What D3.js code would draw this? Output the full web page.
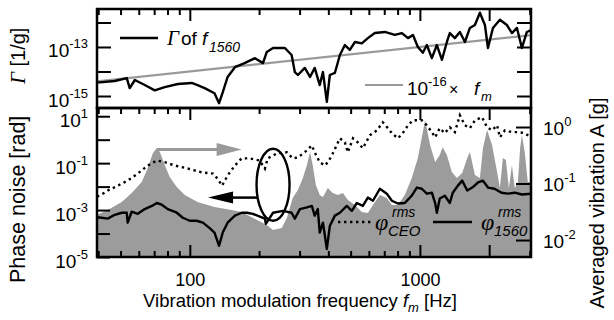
<!DOCTYPE html>
<html>
<head>
<meta charset="utf-8">
<script src="https://cdn.jsdelivr.net/npm/d3@7"></script>
<style>
  body { margin: 0; background: #fff; }
  text { font-family: "Liberation Sans", Arial, sans-serif; fill: #000; }
  .it { font-style: italic; }
  .greek { font-family: "Liberation Serif", "DejaVu Serif", serif; font-style: italic; }
</style>
</head>
<body>
<div id="chart"></div>
<script>
// x ticks
const xMinorTicks = [40, 50, 60, 70, 80, 90, 200, 300, 400, 500, 600, 700, 800, 900, 3000];
const xMajorTicks = [100, 1000, 2000];
const xLabels = [100, 1000];

// y ticks
const gammaTicks = [1e-15, 1e-14, 1e-13, 1e-12];
const gammaLabels = [1e-15, 1e-13];
const phaseTicks = [1e-5, 1e-4, 1e-3, 1e-2, 1e-1, 1e0, 1e1];
const phaseLabels = [1e-5, 1e-3, 1e-1, 1e1];
const vibTicks = [1e-2, 1e-1, 1e0];

// top panel: Gamma of f1560 [1/g]
const gammaF = [39.5, 40.6, 47.2, 53.2, 54.8, 57.7, 63.7, 70.4, 77.8, 88.7, 102, 108, 116, 128, 134, 139, 146, 157, 173, 192,
  208, 216, 230, 259, 277, 286, 295, 316, 333, 349, 367, 379, 394, 406, 427, 449, 472, 496, 522, 559,
  594, 637, 704, 778, 835, 888, 933, 980, 1030, 1072, 1127, 1185, 1247, 1310, 1349, 1419, 1492, 1569, 1649, 1734,
  1823, 1917, 1976, 2077, 2227, 2388, 2512, 2641, 2775, 2917, 3040];
const gammaV = [3.6e-15, 3.6e-15, 4.1e-15, 5.4e-15, 2.1e-15, 4.5e-15, 2.8e-15, 1.7e-15, 2.3e-15, 3.1e-15, 3.4e-15, 2.8e-15, 2.1e-15, 1.3e-15, 5.1e-16, 1.4e-15, 6.0e-15, 1.5e-14, 2.2e-14, 3.5e-14,
  2.2e-14, 6.3e-14, 9.1e-14, 9.1e-14, 4.7e-14, 9.5e-15, 7.2e-15, 1.4e-14, 6.0e-15, 1.4e-14, 2.8e-15, 9.5e-15, 5.8e-16, 7.2e-15, 8.7e-15, 4.7e-14, 1.2e-13, 7.6e-14, 1.6e-13, 1.4e-13,
  2.3e-13, 3.7e-13, 4.1e-13, 3.1e-13, 3.7e-13, 2.3e-13, 3.1e-13, 1.0e-13, 5.8e-14, 1.2e-13, 3.5e-14, 1.2e-13, 3.0e-14, 1.6e-13, 3.7e-13, 2.3e-13, 4.1e-13, 1.6e-13, 6.0e-13, 7.9e-13,
  2.5e-12, 7.9e-13, 9.1e-14, 6.0e-13, 1.3e-12, 7.9e-13, 3.7e-13, 6.0e-13, 9.1e-14, 4.1e-13, 4.9e-13];

// 1e-16 x fm reference line
const refF = [39.5, 3040];
const refV = [3.95e-15, 3.04e-13];

// bottom panel: phi_1560 rms [rad]
const p1560F = [39.5, 40.6, 44.0, 47.2, 50.6, 53.2, 53.7, 55.9, 59.4, 63.7, 68.4, 71.9, 75.5, 80.2, 87.8, 93.2, 100, 107, 114, 122,
  128, 134, 139, 146, 157, 168, 177, 188, 212, 214, 230, 254, 277, 286, 301, 323, 339, 349, 360, 367,
  379, 394, 406, 427, 449, 481, 506, 532, 565, 594, 625, 670, 718, 755, 802, 860, 922, 970, 1019, 1072,
  1127, 1165, 1185, 1220, 1283, 1349, 1390, 1462, 1527, 1606, 1689, 1789, 1880, 1976, 2110, 2262, 2409, 2583, 2775, 3040];
const p1560V = [4.8e-4, 4.8e-4, 4.3e-4, 6.3e-4, 7.7e-4, 7.7e-4, 2.9e-4, 8.5e-4, 6.9e-4, 1.1e-3, 1.5e-3, 2.0e-3, 1.7e-3, 1.1e-3, 7.7e-4, 4.7e-4, 3.5e-4, 3.5e-4, 2.9e-4, 1.7e-4,
  1.1e-4, 3.0e-5, 1.1e-4, 2.9e-4, 5.8e-4, 7.7e-4, 7.7e-4, 6.9e-4, 4.3e-4, 2.6e-4, 7.7e-4, 9.3e-4, 7.7e-4, 4.3e-4, 1.1e-3, 1.3e-3, 1.5e-3, 5.8e-4, 1.1e-3, 1.1e-4,
  2.9e-4, 2.2e-5, 2.1e-4, 5.8e-4, 7.7e-4, 1.5e-3, 9.3e-4, 2.0e-3, 1.5e-3, 3.4e-3, 2.5e-3, 8.1e-3, 5.0e-3, 2.5e-3, 1.9e-3, 2.0e-3, 4.1e-3, 9.1e-3, 8.1e-3, 5.0e-3,
  5.5e-3, 2.0e-3, 7.7e-4, 3.1e-3, 4.1e-3, 2.0e-3, 5.5e-3, 1.1e-2, 1.8e-2, 6.8e-3, 9.1e-3, 1.5e-2, 1.8e-2, 9.1e-3, 8.1e-3, 5.5e-3, 5.0e-3, 5.5e-3, 4.6e-3, 5.0e-3];

// bottom panel: phi_CEO rms [rad]
const pCeoF = [39.5, 40.6, 44.0, 48.7, 53.7, 59.4, 65.7, 71.9, 77.8, 86.1, 98.0, 113, 126, 132, 138, 146, 157, 168, 182, 201,
  212, 218, 239, 264, 280, 295, 323, 339, 349, 367, 386, 398, 414, 449, 472, 486, 512, 537, 565, 606,
  651, 690, 726, 755, 802, 842, 888, 933, 1019, 1072, 1127, 1165, 1220, 1283, 1349, 1419, 1492, 1569, 1649, 1734,
  1862, 1958, 2059, 2165, 2227, 2341, 2512, 2667, 2855, 3040];
const pCeoV = [3.8e-3, 4.1e-3, 6.8e-3, 1.1e-2, 1.8e-2, 3.6e-2, 7.9e-2, 0.13, 0.11, 7.9e-2, 5.9e-2, 4.0e-2, 3.6e-2, 2.2e-2, 1.1e-2, 3.0e-2, 7.9e-2, 0.16, 0.16, 0.13,
  5.9e-2, 0.16, 0.26, 0.29, 0.16, 0.175, 0.35, 0.57, 0.29, 0.11, 7.9e-2, 0.11, 0.21, 1.14, 0.77, 0.29, 1.14, 0.77, 0.43, 1.53,
  2.5, 5.5, 3.1, 1.9, 1.14, 1.9, 4.1, 6.7, 6.7, 4.1, 2.1, 1.26, 3.1, 1.9, 3.4, 2.1, 11, 4.1, 3.1, 6.7,
  9.1, 3.4, 2.5, 4.1, 1.26, 2.5, 2.1, 2.1, 1.9, 1.26];

// bottom panel: averaged vibration A [g] (right axis, grey fill)
const vibF = [39.5, 44.0, 50.6, 55.9, 61.8, 65.7, 69.1, 71.9, 74.1, 77.8, 81.8, 87.8, 95.1, 108, 128, 152, 168, 177, 196, 216,
  230, 251, 264, 272, 280, 295, 310, 323, 333, 342, 353, 367, 379, 398, 418, 440, 463, 486, 522, 559,
  594, 625, 670, 718, 755, 802, 860, 922, 980, 1030, 1054, 1107, 1165, 1220, 1256, 1310, 1377, 1447, 1527, 1606,
  1649, 1734, 1823, 1880, 1958, 2059, 2165, 2227, 2294, 2364, 2436, 2512, 2583, 2667, 2727, 2775, 2855, 2944, 3040];
const vibV = [0.028, 0.034, 0.047, 0.068, 0.106, 0.188, 0.347, 0.425, 0.361, 0.212, 0.130, 0.0867, 0.0626, 0.047, 0.0384, 0.034, 0.0313, 0.028, 0.0226, 0.0184,
  0.0150, 0.0163, 0.0245, 0.0368, 0.0554, 0.0767, 0.125, 0.212, 0.361, 0.212, 0.094, 0.0626, 0.0577, 0.0832, 0.068, 0.0626, 0.068, 0.051, 0.0416, 0.0313,
  0.030, 0.0416, 0.0626, 0.0554, 0.0416, 0.0416, 0.0626, 0.125, 0.283, 0.816, 1.33, 0.48, 0.24, 0.32, 0.44, 0.32, 0.16, 0.125, 0.153, 0.283,
  0.361, 0.141, 0.125, 0.425, 0.885, 0.48, 0.16, 0.083, 0.283, 0.26, 0.083, 0.212, 0.083, 0.106, 0.425, 0.72, 0.361, 0.106, 0.106];

// annotations (data units)
const greyArrowF = [72, 168], greyArrowA = 0.4;      // points to right axis
const blackArrowF = [196, 120], blackArrowP = 3.4e-3; // points to left axis
const ellipseF = 230, ellipseP = 1.2e-2;

const svg = d3.select('#chart').append('svg')
  .attr('width', 614)
  .attr('height', 320);

const margin = { top: 9, right: 83, bottom: 63, left: 97 };
const width = 614 - margin.left - margin.right;
const topH = 99;
const botH = 149;

const x = d3.scaleLog().domain([39.5, 3040]).range([0, width]);
const yTop = d3.scaleLog().domain([3.24e-16, 3.55e-12]).range([topH, 0]);
const yL = d3.scaleLog().domain([1e-5, 22.4]).range([botH, 0]);
const yR = d3.scaleLog().domain([5.01e-3, 2.17]).range([botH, 0]);

const defs = svg.append('defs');
defs.append('clipPath').attr('id', 'clipTop').append('rect').attr('width', width).attr('height', topH);
defs.append('clipPath').attr('id', 'clipBot').append('rect').attr('width', width).attr('height', botH);

const gTop = svg.append('g').attr('transform', `translate(${margin.left},${margin.top})`);
const gBot = svg.append('g').attr('transform', `translate(${margin.left},${margin.top + topH})`);

const zip = (a, b) => a.map((d, i) => [d, b[i]]);
const lineOf = yScale => d3.line().x(d => x(d[0])).y(d => yScale(d[1]));

// ---- top panel curves
const topPlot = gTop.append('g').attr('clip-path', 'url(#clipTop)');
topPlot.append('path')
  .datum(zip(refF, refV))
  .attr('d', lineOf(yTop))
  .attr('fill', 'none').attr('stroke', '#9a9a9a').attr('stroke-width', 2.2);
topPlot.append('path')
  .datum(zip(gammaF, gammaV))
  .attr('d', lineOf(yTop))
  .attr('fill', 'none').attr('stroke', '#000').attr('stroke-width', 2.4)
  .attr('stroke-linejoin', 'round');

// ---- bottom panel curves
const botPlot = gBot.append('g').attr('clip-path', 'url(#clipBot)');
botPlot.append('path')
  .datum(zip(vibF, vibV))
  .attr('d', d3.area().x(d => x(d[0])).y0(botH).y1(d => yR(d[1])))
  .attr('fill', '#9c9c9c');
botPlot.append('path')
  .datum(zip(pCeoF, pCeoV))
  .attr('d', lineOf(yL))
  .attr('fill', 'none').attr('stroke', '#000').attr('stroke-width', 2.4)
  .attr('stroke-dasharray', '2.4,3.6');
botPlot.append('path')
  .datum(zip(p1560F, p1560V))
  .attr('d', lineOf(yL))
  .attr('fill', 'none').attr('stroke', '#000').attr('stroke-width', 2.4)
  .attr('stroke-linejoin', 'round');

// ---- annotations
const ga = [x(greyArrowF[0]), x(greyArrowF[1]), yR(greyArrowA)];
gBot.append('line')
  .attr('x1', ga[0]).attr('x2', ga[1] - 20).attr('y1', ga[2]).attr('y2', ga[2])
  .attr('stroke', '#9a9a9a').attr('stroke-width', 3);
gBot.append('path')
  .attr('d', `M${ga[1]},${ga[2]} L${ga[1] - 25},${ga[2] - 6.5} L${ga[1] - 25},${ga[2] + 6.5} Z`)
  .attr('fill', '#9a9a9a');

const ba = [x(blackArrowF[0]), x(blackArrowF[1]), yL(blackArrowP)];
gBot.append('line')
  .attr('x1', ba[0]).attr('x2', ba[1] + 20).attr('y1', ba[2]).attr('y2', ba[2])
  .attr('stroke', '#000').attr('stroke-width', 2.5);
gBot.append('path')
  .attr('d', `M${ba[1]},${ba[2]} L${ba[1] + 25},${ba[2] - 6} L${ba[1] + 25},${ba[2] + 6} Z`)
  .attr('fill', '#000');

gBot.append('ellipse')
  .attr('cx', x(ellipseF)).attr('cy', yL(ellipseP))
  .attr('rx', 16.5).attr('ry', 36)
  .attr('fill', 'none').attr('stroke', '#000').attr('stroke-width', 2.4);

// ---- axes
function tidy(s) {
  s.select('.domain').remove();
  s.selectAll('line').attr('stroke', '#000').attr('stroke-width', 2);
  s.attr('font-family', null).attr('font-size', 18);
}

function powLabels(s, anchor, dx, dy) {
  s.selectAll('.tick text').each(function (d) {
    const t = d3.select(this);
    if (!t.text()) return;
    t.text(null).attr('text-anchor', anchor).attr('dy', null).attr('x', dx).attr('y', dy);
    t.append('tspan').attr('font-size', 19).text('10');
    t.append('tspan').attr('font-size', 13).attr('dy', -9).text(Math.round(Math.log10(d)));
  });
}

function xAxes(g, axisFn, yPos, labels) {
  g.append('g').attr('transform', `translate(0,${yPos})`)
    .call(axisFn(x).tickValues(xMinorTicks).tickSize(-6).tickFormat(''))
    .call(tidy);
  g.append('g').attr('transform', `translate(0,${yPos})`)
    .call(axisFn(x).tickValues(xMajorTicks).tickSize(-12).tickPadding(16)
      .tickFormat(d => labels && xLabels.includes(d) ? d : ''))
    .call(tidy);
}

xAxes(gTop, d3.axisTop, 0, false);
xAxes(gBot, d3.axisTop, 0, false);
xAxes(gBot, d3.axisBottom, botH, true);

gTop.append('g')
  .call(d3.axisLeft(yTop).tickValues(gammaTicks).tickSize(-14)
    .tickFormat(d => gammaLabels.includes(d) ? 'x' : ''))
  .call(tidy)
  .call(s => powLabels(s, 'end', -9, 10));
gTop.append('g').attr('transform', `translate(${width},0)`)
  .call(d3.axisRight(yTop).tickValues(gammaTicks).tickSize(-14).tickFormat(''))
  .call(tidy);

gBot.append('g')
  .call(d3.axisLeft(yL).tickValues(phaseTicks).tickSize(-13)
    .tickFormat(d => phaseLabels.includes(d) ? 'x' : ''))
  .call(tidy)
  .call(s => powLabels(s, 'end', -9, 10));
gBot.append('g').attr('transform', `translate(${width},0)`)
  .call(d3.axisRight(yR).tickValues(vibTicks).tickSize(-15).tickFormat(() => 'x'))
  .call(tidy)
  .call(s => powLabels(s, 'start', 12, 7));

// frames
gTop.append('rect').attr('width', width).attr('height', topH)
  .attr('fill', 'none').attr('stroke', '#000').attr('stroke-width', 2.5);
gBot.append('rect').attr('width', width).attr('height', botH)
  .attr('fill', 'none').attr('stroke', '#000').attr('stroke-width', 2.5);

// ---- legends
svg.append('line').attr('x1', 120).attr('x2', 158).attr('y1', 38).attr('y2', 38)
  .attr('stroke', '#000').attr('stroke-width', 2.4);
const lg1 = svg.append('text').attr('y', 45).attr('font-size', 19);
lg1.append('tspan').attr('class', 'greek').attr('x', 167).attr('font-size', 21).text('Γ');
lg1.append('tspan').attr('x', 181).text('of');
lg1.append('tspan').attr('class', 'it').attr('x', 202).text('f');
lg1.append('tspan').attr('class', 'it').attr('x', 209).attr('y', 52).attr('font-size', 14).text('1560');

svg.append('line').attr('x1', 365).attr('x2', 403).attr('y1', 85).attr('y2', 85)
  .attr('stroke', '#9a9a9a').attr('stroke-width', 2.2);
const lg2 = svg.append('text').attr('y', 95).attr('font-size', 19);
lg2.append('tspan').attr('x', 407).text('10');
lg2.append('tspan').attr('x', 428).attr('y', 86).attr('font-size', 13).text('-16');
lg2.append('tspan').attr('x', 449).attr('y', 95).attr('font-size', 16).text('×');
lg2.append('tspan').attr('class', 'it').attr('x', 474).text('f');
lg2.append('tspan').attr('class', 'it').attr('x', 481).attr('y', 101).attr('font-size', 13).text('m');

svg.append('line').attr('x1', 338).attr('x2', 372).attr('y1', 222).attr('y2', 222)
  .attr('stroke', '#000').attr('stroke-width', 2.4).attr('stroke-dasharray', '2.4,3.6');
svg.append('line').attr('x1', 433).attr('x2', 472).attr('y1', 222).attr('y2', 222)
  .attr('stroke', '#000').attr('stroke-width', 2.4);
[[375, 'CEO'], [481, '1560']].forEach(([lx, sub]) => {
  const t = svg.append('text');
  t.append('tspan').attr('class', 'greek').attr('x', lx).attr('y', 230).attr('font-size', 24).text('φ');
  t.append('tspan').attr('class', 'it').attr('x', lx + 13).attr('y', 236).attr('font-size', 15).text(sub);
  t.append('tspan').attr('class', 'it').attr('x', lx + 17).attr('y', 217).attr('font-size', 14).text('rms');
});

// ---- axis titles
const xt = svg.append('text').attr('x', 300).attr('y', 306.5).attr('text-anchor', 'middle').attr('font-size', 18.5);
xt.append('tspan').text('Vibration modulation frequency ');
xt.append('tspan').attr('class', 'it').text('f');
xt.append('tspan').attr('class', 'it').attr('font-size', 13).attr('dy', 5).text('m');
xt.append('tspan').attr('dy', -5).text(' [Hz]');

const yt = svg.append('text').attr('transform', 'translate(25,0) rotate(-90)').attr('font-size', 20);
yt.append('tspan').attr('x', -283).attr('font-size', 21.5).text('Phase noise [rad]');
yt.append('tspan').attr('class', 'greek').attr('x', -84).attr('font-size', 21).text('Γ');
yt.append('tspan').text(' [1/g]');

svg.append('text').attr('transform', 'translate(604,0) rotate(-90)')
  .attr('x', -203).attr('text-anchor', 'middle').attr('font-size', 20)
  .text('Averaged vibration A [g]');
</script>
</body>
</html>
